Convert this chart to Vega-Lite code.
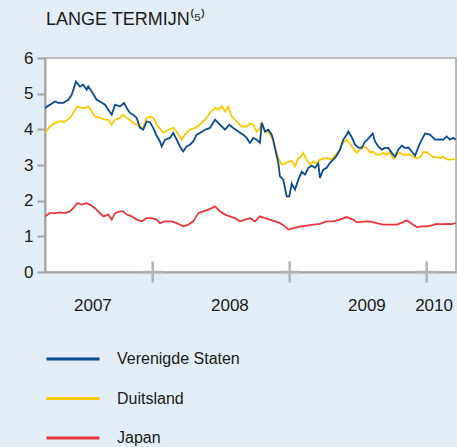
{
"$schema": "https://vega.github.io/schema/vega-lite/v6.json",
"width": 411, "height": 214,
"autosize": {"type": "none"},
"padding": {"left": 45, "top": 58, "right": 1, "bottom": 175},
"background": "#e2edf5",
"config": {
  "view": {"fill": "#ffffff", "stroke": "#a8a8a8", "strokeWidth": 1.5},
  "font": "Liberation Sans"
},
"title": {"text": "LANGE TERMIJN⁽⁵⁾", "anchor": "start", "frame": "group", "fontSize": 18, "fontWeight": "normal", "color": "#1a1a1a", "baseline": "alphabetic", "offset": 6, "dx": 1, "font": "Liberation Sans"},
"datasets": {
"rente": [
{"jaar":2007.214,"land":"Duitsland","rente":3.90},{"jaar":2007.250,"land":"Duitsland","rente":4.08},{"jaar":2007.287,"land":"Duitsland","rente":4.18},{"jaar":2007.323,"land":"Duitsland","rente":4.22},{"jaar":2007.360,"land":"Duitsland","rente":4.22},{"jaar":2007.396,"land":"Duitsland","rente":4.32},{"jaar":2007.420,"land":"Duitsland","rente":4.46},{"jaar":2007.450,"land":"Duitsland","rente":4.64},{"jaar":2007.482,"land":"Duitsland","rente":4.60},{"jaar":2007.513,"land":"Duitsland","rente":4.60},{"jaar":2007.530,"land":"Duitsland","rente":4.64},{"jaar":2007.555,"land":"Duitsland","rente":4.50},{"jaar":2007.579,"land":"Duitsland","rente":4.36},{"jaar":2007.615,"land":"Duitsland","rente":4.32},{"jaar":2007.652,"land":"Duitsland","rente":4.27},{"jaar":2007.676,"land":"Duitsland","rente":4.27},{"jaar":2007.701,"land":"Duitsland","rente":4.13},{"jaar":2007.725,"land":"Duitsland","rente":4.27},{"jaar":2007.761,"land":"Duitsland","rente":4.32},{"jaar":2007.785,"land":"Duitsland","rente":4.41},{"jaar":2007.810,"land":"Duitsland","rente":4.32},{"jaar":2007.847,"land":"Duitsland","rente":4.22},{"jaar":2007.883,"land":"Duitsland","rente":4.13},{"jaar":2007.907,"land":"Duitsland","rente":4.08},{"jaar":2007.931,"land":"Duitsland","rente":4.04},{"jaar":2007.956,"land":"Duitsland","rente":4.32},{"jaar":2007.980,"land":"Duitsland","rente":4.36},{"jaar":2008.004,"land":"Duitsland","rente":4.32},{"jaar":2008.029,"land":"Duitsland","rente":4.13},{"jaar":2008.053,"land":"Duitsland","rente":4.02},{"jaar":2008.077,"land":"Duitsland","rente":3.90},{"jaar":2008.114,"land":"Duitsland","rente":3.99},{"jaar":2008.150,"land":"Duitsland","rente":4.04},{"jaar":2008.175,"land":"Duitsland","rente":3.94},{"jaar":2008.212,"land":"Duitsland","rente":3.71},{"jaar":2008.236,"land":"Duitsland","rente":3.85},{"jaar":2008.272,"land":"Duitsland","rente":3.99},{"jaar":2008.309,"land":"Duitsland","rente":4.04},{"jaar":2008.345,"land":"Duitsland","rente":4.13},{"jaar":2008.382,"land":"Duitsland","rente":4.27},{"jaar":2008.418,"land":"Duitsland","rente":4.46},{"jaar":2008.455,"land":"Duitsland","rente":4.60},{"jaar":2008.479,"land":"Duitsland","rente":4.55},{"jaar":2008.504,"land":"Duitsland","rente":4.64},{"jaar":2008.528,"land":"Duitsland","rente":4.50},{"jaar":2008.552,"land":"Duitsland","rente":4.64},{"jaar":2008.577,"land":"Duitsland","rente":4.36},{"jaar":2008.613,"land":"Duitsland","rente":4.22},{"jaar":2008.650,"land":"Duitsland","rente":4.08},{"jaar":2008.686,"land":"Duitsland","rente":4.08},{"jaar":2008.710,"land":"Duitsland","rente":4.16},{"jaar":2008.734,"land":"Duitsland","rente":4.13},{"jaar":2008.759,"land":"Duitsland","rente":3.93},{"jaar":2008.783,"land":"Duitsland","rente":4.04},{"jaar":2008.796,"land":"Duitsland","rente":4.18},{"jaar":2008.820,"land":"Duitsland","rente":3.93},{"jaar":2008.844,"land":"Duitsland","rente":3.93},{"jaar":2008.869,"land":"Duitsland","rente":3.78},{"jaar":2008.893,"land":"Duitsland","rente":3.49},{"jaar":2008.917,"land":"Duitsland","rente":3.20},{"jaar":2008.942,"land":"Duitsland","rente":3.01},{"jaar":2008.966,"land":"Duitsland","rente":3.04},{"jaar":2008.990,"land":"Duitsland","rente":3.09},{"jaar":2009.015,"land":"Duitsland","rente":3.12},{"jaar":2009.039,"land":"Duitsland","rente":2.96},{"jaar":2009.063,"land":"Duitsland","rente":3.20},{"jaar":2009.075,"land":"Duitsland","rente":3.20},{"jaar":2009.099,"land":"Duitsland","rente":3.34},{"jaar":2009.124,"land":"Duitsland","rente":3.15},{"jaar":2009.148,"land":"Duitsland","rente":3.01},{"jaar":2009.172,"land":"Duitsland","rente":3.10},{"jaar":2009.197,"land":"Duitsland","rente":3.04},{"jaar":2009.221,"land":"Duitsland","rente":3.15},{"jaar":2009.245,"land":"Duitsland","rente":3.18},{"jaar":2009.270,"land":"Duitsland","rente":3.20},{"jaar":2009.294,"land":"Duitsland","rente":3.15},{"jaar":2009.318,"land":"Duitsland","rente":3.20},{"jaar":2009.343,"land":"Duitsland","rente":3.32},{"jaar":2009.367,"land":"Duitsland","rente":3.43},{"jaar":2009.391,"land":"Duitsland","rente":3.64},{"jaar":2009.416,"land":"Duitsland","rente":3.71},{"jaar":2009.440,"land":"Duitsland","rente":3.60},{"jaar":2009.464,"land":"Duitsland","rente":3.46},{"jaar":2009.489,"land":"Duitsland","rente":3.34},{"jaar":2009.513,"land":"Duitsland","rente":3.43},{"jaar":2009.537,"land":"Duitsland","rente":3.52},{"jaar":2009.562,"land":"Duitsland","rente":3.48},{"jaar":2009.586,"land":"Duitsland","rente":3.35},{"jaar":2009.610,"land":"Duitsland","rente":3.37},{"jaar":2009.635,"land":"Duitsland","rente":3.29},{"jaar":2009.659,"land":"Duitsland","rente":3.29},{"jaar":2009.683,"land":"Duitsland","rente":3.34},{"jaar":2009.708,"land":"Duitsland","rente":3.29},{"jaar":2009.732,"land":"Duitsland","rente":3.36},{"jaar":2009.756,"land":"Duitsland","rente":3.18},{"jaar":2009.781,"land":"Duitsland","rente":3.29},{"jaar":2009.805,"land":"Duitsland","rente":3.34},{"jaar":2009.829,"land":"Duitsland","rente":3.29},{"jaar":2009.854,"land":"Duitsland","rente":3.29},{"jaar":2009.878,"land":"Duitsland","rente":3.29},{"jaar":2009.902,"land":"Duitsland","rente":3.23},{"jaar":2009.927,"land":"Duitsland","rente":3.18},{"jaar":2009.951,"land":"Duitsland","rente":3.22},{"jaar":2009.975,"land":"Duitsland","rente":3.36},{"jaar":2010.000,"land":"Duitsland","rente":3.36},{"jaar":2010.024,"land":"Duitsland","rente":3.29},{"jaar":2010.048,"land":"Duitsland","rente":3.22},{"jaar":2010.073,"land":"Duitsland","rente":3.22},{"jaar":2010.097,"land":"Duitsland","rente":3.20},{"jaar":2010.121,"land":"Duitsland","rente":3.23},{"jaar":2010.146,"land":"Duitsland","rente":3.16},{"jaar":2010.170,"land":"Duitsland","rente":3.15},{"jaar":2010.194,"land":"Duitsland","rente":3.16},{"jaar":2010.212,"land":"Duitsland","rente":3.17},
{"jaar":2007.214,"land":"Verenigde Staten","rente":4.60},{"jaar":2007.287,"land":"Verenigde Staten","rente":4.78},{"jaar":2007.311,"land":"Verenigde Staten","rente":4.74},{"jaar":2007.347,"land":"Verenigde Staten","rente":4.74},{"jaar":2007.384,"land":"Verenigde Staten","rente":4.83},{"jaar":2007.409,"land":"Verenigde Staten","rente":4.97},{"jaar":2007.440,"land":"Verenigde Staten","rente":5.34},{"jaar":2007.469,"land":"Verenigde Staten","rente":5.20},{"jaar":2007.493,"land":"Verenigde Staten","rente":5.25},{"jaar":2007.518,"land":"Verenigde Staten","rente":5.11},{"jaar":2007.530,"land":"Verenigde Staten","rente":5.20},{"jaar":2007.555,"land":"Verenigde Staten","rente":5.06},{"jaar":2007.591,"land":"Verenigde Staten","rente":4.83},{"jaar":2007.615,"land":"Verenigde Staten","rente":4.78},{"jaar":2007.652,"land":"Verenigde Staten","rente":4.69},{"jaar":2007.676,"land":"Verenigde Staten","rente":4.55},{"jaar":2007.701,"land":"Verenigde Staten","rente":4.41},{"jaar":2007.725,"land":"Verenigde Staten","rente":4.69},{"jaar":2007.761,"land":"Verenigde Staten","rente":4.64},{"jaar":2007.791,"land":"Verenigde Staten","rente":4.74},{"jaar":2007.810,"land":"Verenigde Staten","rente":4.60},{"jaar":2007.834,"land":"Verenigde Staten","rente":4.46},{"jaar":2007.858,"land":"Verenigde Staten","rente":4.41},{"jaar":2007.883,"land":"Verenigde Staten","rente":4.32},{"jaar":2007.907,"land":"Verenigde Staten","rente":4.05},{"jaar":2007.931,"land":"Verenigde Staten","rente":3.99},{"jaar":2007.956,"land":"Verenigde Staten","rente":4.22},{"jaar":2007.980,"land":"Verenigde Staten","rente":4.20},{"jaar":2008.004,"land":"Verenigde Staten","rente":4.04},{"jaar":2008.029,"land":"Verenigde Staten","rente":3.82},{"jaar":2008.053,"land":"Verenigde Staten","rente":3.66},{"jaar":2008.066,"land":"Verenigde Staten","rente":3.52},{"jaar":2008.090,"land":"Verenigde Staten","rente":3.71},{"jaar":2008.126,"land":"Verenigde Staten","rente":3.76},{"jaar":2008.150,"land":"Verenigde Staten","rente":3.90},{"jaar":2008.175,"land":"Verenigde Staten","rente":3.71},{"jaar":2008.199,"land":"Verenigde Staten","rente":3.52},{"jaar":2008.223,"land":"Verenigde Staten","rente":3.38},{"jaar":2008.248,"land":"Verenigde Staten","rente":3.52},{"jaar":2008.272,"land":"Verenigde Staten","rente":3.57},{"jaar":2008.296,"land":"Verenigde Staten","rente":3.66},{"jaar":2008.321,"land":"Verenigde Staten","rente":3.85},{"jaar":2008.345,"land":"Verenigde Staten","rente":3.90},{"jaar":2008.382,"land":"Verenigde Staten","rente":3.99},{"jaar":2008.418,"land":"Verenigde Staten","rente":4.04},{"jaar":2008.455,"land":"Verenigde Staten","rente":4.27},{"jaar":2008.491,"land":"Verenigde Staten","rente":4.13},{"jaar":2008.528,"land":"Verenigde Staten","rente":3.99},{"jaar":2008.559,"land":"Verenigde Staten","rente":4.13},{"jaar":2008.588,"land":"Verenigde Staten","rente":4.04},{"jaar":2008.625,"land":"Verenigde Staten","rente":3.94},{"jaar":2008.661,"land":"Verenigde Staten","rente":3.85},{"jaar":2008.686,"land":"Verenigde Staten","rente":3.76},{"jaar":2008.710,"land":"Verenigde Staten","rente":3.62},{"jaar":2008.734,"land":"Verenigde Staten","rente":3.76},{"jaar":2008.759,"land":"Verenigde Staten","rente":3.71},{"jaar":2008.783,"land":"Verenigde Staten","rente":3.62},{"jaar":2008.796,"land":"Verenigde Staten","rente":4.18},{"jaar":2008.820,"land":"Verenigde Staten","rente":3.94},{"jaar":2008.844,"land":"Verenigde Staten","rente":3.99},{"jaar":2008.869,"land":"Verenigde Staten","rente":3.85},{"jaar":2008.880,"land":"Verenigde Staten","rente":3.71},{"jaar":2008.900,"land":"Verenigde Staten","rente":3.34},{"jaar":2008.917,"land":"Verenigde Staten","rente":3.06},{"jaar":2008.929,"land":"Verenigde Staten","rente":2.68},{"jaar":2008.953,"land":"Verenigde Staten","rente":2.59},{"jaar":2008.978,"land":"Verenigde Staten","rente":2.12},{"jaar":2008.997,"land":"Verenigde Staten","rente":2.12},{"jaar":2009.015,"land":"Verenigde Staten","rente":2.48},{"jaar":2009.039,"land":"Verenigde Staten","rente":2.31},{"jaar":2009.063,"land":"Verenigde Staten","rente":2.59},{"jaar":2009.088,"land":"Verenigde Staten","rente":2.81},{"jaar":2009.112,"land":"Verenigde Staten","rente":2.73},{"jaar":2009.136,"land":"Verenigde Staten","rente":2.92},{"jaar":2009.161,"land":"Verenigde Staten","rente":2.98},{"jaar":2009.185,"land":"Verenigde Staten","rente":2.92},{"jaar":2009.209,"land":"Verenigde Staten","rente":3.04},{"jaar":2009.221,"land":"Verenigde Staten","rente":2.64},{"jaar":2009.245,"land":"Verenigde Staten","rente":2.87},{"jaar":2009.270,"land":"Verenigde Staten","rente":2.92},{"jaar":2009.294,"land":"Verenigde Staten","rente":3.06},{"jaar":2009.318,"land":"Verenigde Staten","rente":3.15},{"jaar":2009.343,"land":"Verenigde Staten","rente":3.26},{"jaar":2009.367,"land":"Verenigde Staten","rente":3.43},{"jaar":2009.391,"land":"Verenigde Staten","rente":3.71},{"jaar":2009.416,"land":"Verenigde Staten","rente":3.85},{"jaar":2009.428,"land":"Verenigde Staten","rente":3.94},{"jaar":2009.453,"land":"Verenigde Staten","rente":3.78},{"jaar":2009.477,"land":"Verenigde Staten","rente":3.57},{"jaar":2009.501,"land":"Verenigde Staten","rente":3.49},{"jaar":2009.526,"land":"Verenigde Staten","rente":3.48},{"jaar":2009.550,"land":"Verenigde Staten","rente":3.66},{"jaar":2009.574,"land":"Verenigde Staten","rente":3.74},{"jaar":2009.606,"land":"Verenigde Staten","rente":3.88},{"jaar":2009.623,"land":"Verenigde Staten","rente":3.66},{"jaar":2009.647,"land":"Verenigde Staten","rente":3.52},{"jaar":2009.672,"land":"Verenigde Staten","rente":3.43},{"jaar":2009.696,"land":"Verenigde Staten","rente":3.48},{"jaar":2009.720,"land":"Verenigde Staten","rente":3.48},{"jaar":2009.745,"land":"Verenigde Staten","rente":3.34},{"jaar":2009.769,"land":"Verenigde Staten","rente":3.23},{"jaar":2009.793,"land":"Verenigde Staten","rente":3.43},{"jaar":2009.818,"land":"Verenigde Staten","rente":3.54},{"jaar":2009.842,"land":"Verenigde Staten","rente":3.48},{"jaar":2009.866,"land":"Verenigde Staten","rente":3.49},{"jaar":2009.891,"land":"Verenigde Staten","rente":3.38},{"jaar":2009.915,"land":"Verenigde Staten","rente":3.26},{"jaar":2009.939,"land":"Verenigde Staten","rente":3.50},{"jaar":2009.964,"land":"Verenigde Staten","rente":3.71},{"jaar":2009.988,"land":"Verenigde Staten","rente":3.88},{"jaar":2010.024,"land":"Verenigde Staten","rente":3.85},{"jaar":2010.061,"land":"Verenigde Staten","rente":3.71},{"jaar":2010.097,"land":"Verenigde Staten","rente":3.72},{"jaar":2010.121,"land":"Verenigde Staten","rente":3.71},{"jaar":2010.146,"land":"Verenigde Staten","rente":3.80},{"jaar":2010.170,"land":"Verenigde Staten","rente":3.71},{"jaar":2010.194,"land":"Verenigde Staten","rente":3.76},{"jaar":2010.212,"land":"Verenigde Staten","rente":3.71},
{"jaar":2007.214,"land":"Japan","rente":1.56},{"jaar":2007.250,"land":"Japan","rente":1.65},{"jaar":2007.287,"land":"Japan","rente":1.65},{"jaar":2007.323,"land":"Japan","rente":1.67},{"jaar":2007.360,"land":"Japan","rente":1.65},{"jaar":2007.396,"land":"Japan","rente":1.70},{"jaar":2007.420,"land":"Japan","rente":1.79},{"jaar":2007.450,"land":"Japan","rente":1.93},{"jaar":2007.482,"land":"Japan","rente":1.89},{"jaar":2007.518,"land":"Japan","rente":1.93},{"jaar":2007.542,"land":"Japan","rente":1.89},{"jaar":2007.579,"land":"Japan","rente":1.79},{"jaar":2007.615,"land":"Japan","rente":1.65},{"jaar":2007.639,"land":"Japan","rente":1.56},{"jaar":2007.676,"land":"Japan","rente":1.61},{"jaar":2007.701,"land":"Japan","rente":1.47},{"jaar":2007.725,"land":"Japan","rente":1.65},{"jaar":2007.761,"land":"Japan","rente":1.70},{"jaar":2007.785,"land":"Japan","rente":1.70},{"jaar":2007.810,"land":"Japan","rente":1.61},{"jaar":2007.847,"land":"Japan","rente":1.56},{"jaar":2007.883,"land":"Japan","rente":1.47},{"jaar":2007.920,"land":"Japan","rente":1.42},{"jaar":2007.956,"land":"Japan","rente":1.51},{"jaar":2007.993,"land":"Japan","rente":1.51},{"jaar":2008.029,"land":"Japan","rente":1.47},{"jaar":2008.053,"land":"Japan","rente":1.37},{"jaar":2008.090,"land":"Japan","rente":1.42},{"jaar":2008.139,"land":"Japan","rente":1.42},{"jaar":2008.175,"land":"Japan","rente":1.37},{"jaar":2008.223,"land":"Japan","rente":1.28},{"jaar":2008.260,"land":"Japan","rente":1.33},{"jaar":2008.296,"land":"Japan","rente":1.42},{"jaar":2008.333,"land":"Japan","rente":1.65},{"jaar":2008.369,"land":"Japan","rente":1.70},{"jaar":2008.406,"land":"Japan","rente":1.75},{"jaar":2008.431,"land":"Japan","rente":1.79},{"jaar":2008.455,"land":"Japan","rente":1.84},{"jaar":2008.491,"land":"Japan","rente":1.70},{"jaar":2008.528,"land":"Japan","rente":1.61},{"jaar":2008.564,"land":"Japan","rente":1.56},{"jaar":2008.601,"land":"Japan","rente":1.51},{"jaar":2008.637,"land":"Japan","rente":1.42},{"jaar":2008.674,"land":"Japan","rente":1.47},{"jaar":2008.710,"land":"Japan","rente":1.51},{"jaar":2008.747,"land":"Japan","rente":1.42},{"jaar":2008.783,"land":"Japan","rente":1.56},{"jaar":2008.820,"land":"Japan","rente":1.51},{"jaar":2008.856,"land":"Japan","rente":1.47},{"jaar":2008.893,"land":"Japan","rente":1.42},{"jaar":2008.929,"land":"Japan","rente":1.37},{"jaar":2008.966,"land":"Japan","rente":1.28},{"jaar":2008.990,"land":"Japan","rente":1.19},{"jaar":2009.026,"land":"Japan","rente":1.23},{"jaar":2009.075,"land":"Japan","rente":1.27},{"jaar":2009.124,"land":"Japan","rente":1.30},{"jaar":2009.172,"land":"Japan","rente":1.33},{"jaar":2009.221,"land":"Japan","rente":1.35},{"jaar":2009.270,"land":"Japan","rente":1.42},{"jaar":2009.318,"land":"Japan","rente":1.42},{"jaar":2009.367,"land":"Japan","rente":1.47},{"jaar":2009.416,"land":"Japan","rente":1.54},{"jaar":2009.464,"land":"Japan","rente":1.47},{"jaar":2009.489,"land":"Japan","rente":1.39},{"jaar":2009.537,"land":"Japan","rente":1.41},{"jaar":2009.586,"land":"Japan","rente":1.42},{"jaar":2009.635,"land":"Japan","rente":1.37},{"jaar":2009.683,"land":"Japan","rente":1.33},{"jaar":2009.732,"land":"Japan","rente":1.33},{"jaar":2009.781,"land":"Japan","rente":1.33},{"jaar":2009.829,"land":"Japan","rente":1.40},{"jaar":2009.854,"land":"Japan","rente":1.45},{"jaar":2009.891,"land":"Japan","rente":1.35},{"jaar":2009.927,"land":"Japan","rente":1.26},{"jaar":2009.964,"land":"Japan","rente":1.28},{"jaar":2010.000,"land":"Japan","rente":1.28},{"jaar":2010.036,"land":"Japan","rente":1.31},{"jaar":2010.073,"land":"Japan","rente":1.35},{"jaar":2010.109,"land":"Japan","rente":1.34},{"jaar":2010.146,"land":"Japan","rente":1.35},{"jaar":2010.182,"land":"Japan","rente":1.34},{"jaar":2010.212,"land":"Japan","rente":1.37}
],
"jaargrenzen": [{"jaar": 2008}, {"jaar": 2009}, {"jaar": 2010}]
},
"layer": [
{
  "data": {"name": "rente"},
  "mark": {"type": "line", "strokeWidth": 1.8, "clip": true},
  "encoding": {
    "x": {"field": "jaar", "type": "quantitative",
      "scale": {"domain": [2007.214, 2010.214], "nice": false, "zero": false},
      "axis": {"title": null, "values": [2007.56, 2008.56, 2009.56, 2010.05], "labelExpr": "floor(datum.value)",
        "ticks": false, "tickSize": 0, "grid": false, "domainColor": "#a3a3a3", "domainWidth": 2,
        "labelFontSize": 17, "labelColor": "#1a1a1a", "labelPadding": 38, "labelBaseline": "alphabetic",
        "labelFlush": false, "labelOverlap": false, "labelFont": "Liberation Sans"}},
    "y": {"field": "rente", "type": "quantitative",
      "scale": {"domain": [0, 6], "nice": false},
      "axis": {"title": null, "values": [0, 1, 2, 3, 4, 5, 6], "grid": false, "tickSize": 8, "tickColor": "#a3a3a3", "tickWidth": 2,
        "domainColor": "#a3a3a3", "domainWidth": 2, "labelFontSize": 17, "labelColor": "#1a1a1a", "labelPadding": 4,
        "labelOverlap": false, "labelFlush": false, "labelFont": "Liberation Sans"}},
    "color": {"field": "land", "type": "nominal",
      "scale": {"domain": ["Verenigde Staten", "Duitsland", "Japan"], "range": ["#0a4b8f", "#fcc800", "#e8373e"]},
      "legend": {"orient": "none", "legendX": 0, "legendY": 273, "title": null, "direction": "vertical",
        "symbolType": "stroke", "symbolSize": 2809, "symbolStrokeWidth": 3, "labelFontSize": 16,
        "labelOffset": 16, "rowPadding": 3.5, "labelColor": "#1a1a1a", "labelFont": "Liberation Sans"}}
  }
},
{
  "data": {"name": "jaargrenzen"},
  "mark": {"type": "point", "shape": "M-1,0L1,0M0,-1L0,1", "size": 441, "filled": false, "stroke": "#b3b3b3", "strokeWidth": 2.5, "opacity": 1, "clip": false},
  "encoding": {
    "x": {"field": "jaar", "type": "quantitative",
      "axis": {"title": null, "values": [2007.56, 2008.56, 2009.56, 2010.05], "labelExpr": "floor(datum.value)",
        "ticks": false, "tickSize": 0, "grid": false, "domainColor": "#a3a3a3", "domainWidth": 2,
        "labelFontSize": 17, "labelColor": "#1a1a1a", "labelPadding": 38, "labelBaseline": "alphabetic",
        "labelFlush": false, "labelOverlap": false, "labelFont": "Liberation Sans"}},
    "y": {"datum": 0, "type": "quantitative",
      "axis": {"title": null, "values": [0, 1, 2, 3, 4, 5, 6], "grid": false, "tickSize": 8, "tickColor": "#a3a3a3", "tickWidth": 2,
        "domainColor": "#a3a3a3", "domainWidth": 2, "labelFontSize": 17, "labelColor": "#1a1a1a", "labelPadding": 4,
        "labelOverlap": false, "labelFlush": false, "labelFont": "Liberation Sans"}}
  }
}
]
}
